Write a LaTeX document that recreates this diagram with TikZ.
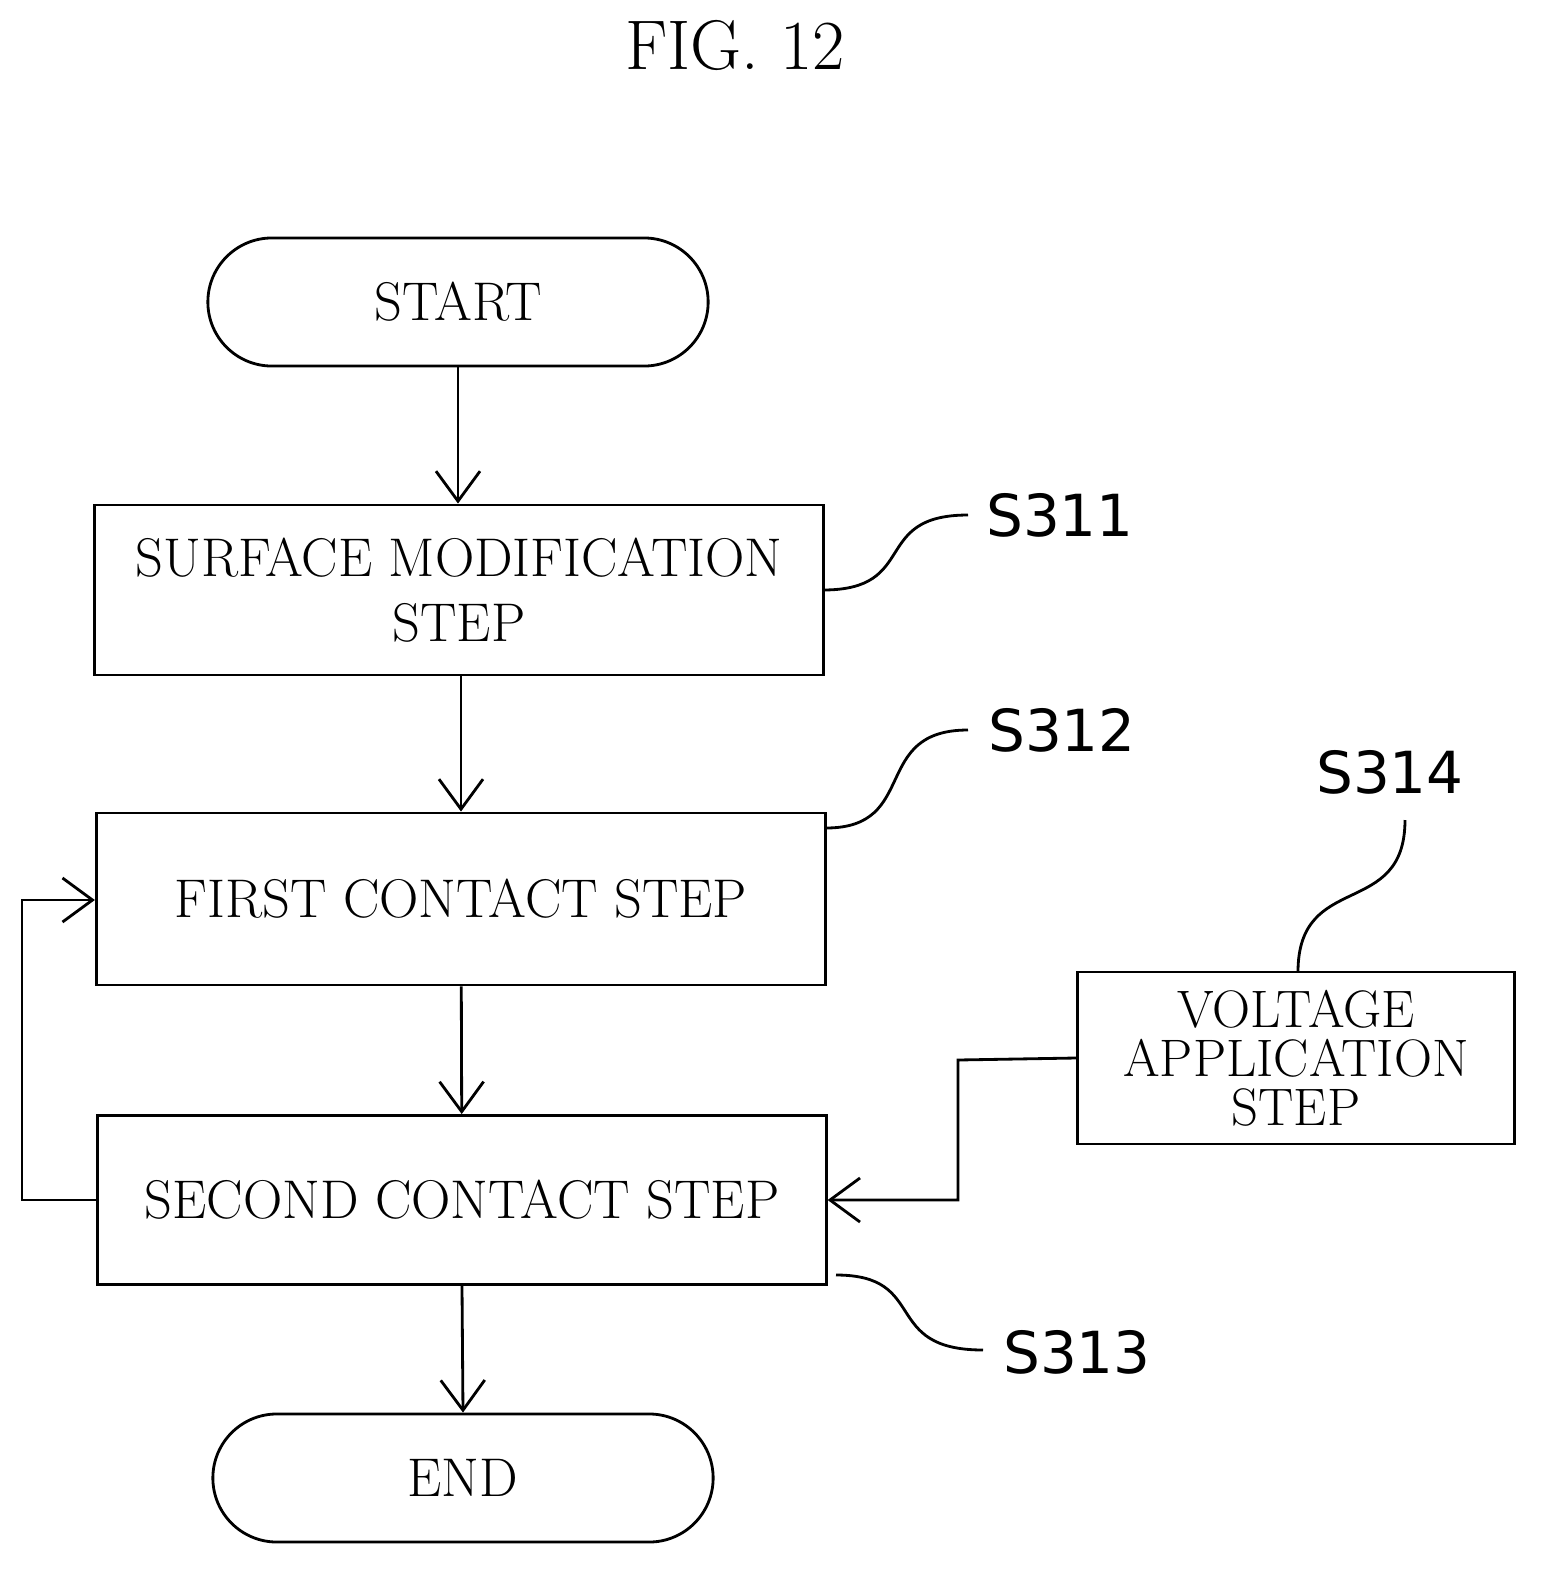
\documentclass[tikz,border=0pt]{standalone}
\usepackage{fontspec}
\newfontfamily\labelfont{DejaVu Sans}
\usetikzlibrary{arrows.meta}
\begin{document}
\begin{tikzpicture}[x=0.01cm, y=-0.01cm]
\tikzset{ >={Straight Barb[length=3mm,width=4.4mm]}, 
  box/.style={draw, thick, align=center, inner sep=0pt,
    font=\fontsize{15.5}{18.5}\selectfont, minimum height=1.7cm},
  term/.style={draw, thick, rounded corners=0.64cm, minimum width=5cm,
    minimum height=1.28cm, font=\fontsize{15.5}{18.5}\selectfont},
  tag/.style={font=\labelfont\fontsize{16.5}{20}\selectfont},
  lead/.style={thick},
}

\useasboundingbox (0,0) rectangle (1560,1590);

%%% Blocos

\node (fig) at (735,45) {\fontsize{20}{24}\selectfont FIG. 12};

\node [term] (start) at (458,302) {START};
\node [box, minimum width=7.28cm] (S311) at (459,590) {SURFACE MODIFICATION\\STEP};
\node [box, minimum width=7.29cm, minimum height=1.72cm] (S312) at (461,899) {FIRST CONTACT STEP};
\node [box, minimum width=7.28cm, minimum height=1.69cm] (S313) at (462,1200) {SECOND CONTACT STEP};
\node [term] (end) at (463,1478) {END};
\node [box, minimum width=4.37cm, minimum height=1.72cm, font=\fontsize{15}{14}\selectfont] (S314) at (1296,1058) {VOLTAGE\\APPLICATION\\STEP};

% etiquetas
\node [tag] (tS311) at (1060,515) {S311};
\node [tag] (tS312) at (1062,730) {S312};
\node [tag] (tS314) at (1390,772) {S314};
\node [tag] (tS313) at (1077,1352) {S313};

%%% Linhas

\draw [->, thick] (start) -- (start |- S311.north);
\draw [->, thick] (S311.south -| 461,0) -- (S312.north);
\draw [->, thick] (S312) -- (S313);
\draw [->, thick] (S313.south) -- (end.north);

% laco de retorno
\draw [->, thick] (S313.west) -- (22,1200) -- (22,900) -- (S312.west |- 0,900);

% tensao -> segundo contato
\draw [->, thick] (S314.west) -- (958,1060) -- (958,1200) -- (S313.east);

% linhas de chamada
\draw [lead] (823,590) .. controls (920,590) and (870,515) .. (968,515);
\draw [lead] (826,828) .. controls (920,828) and (870,730) .. (968,730);
\draw [lead] (1298,972) .. controls (1298,870) and (1405,920) .. (1405,820);
\draw [lead] (836,1275) .. controls (930,1275) and (880,1350) .. (983,1350);

\end{tikzpicture}
\end{document}
